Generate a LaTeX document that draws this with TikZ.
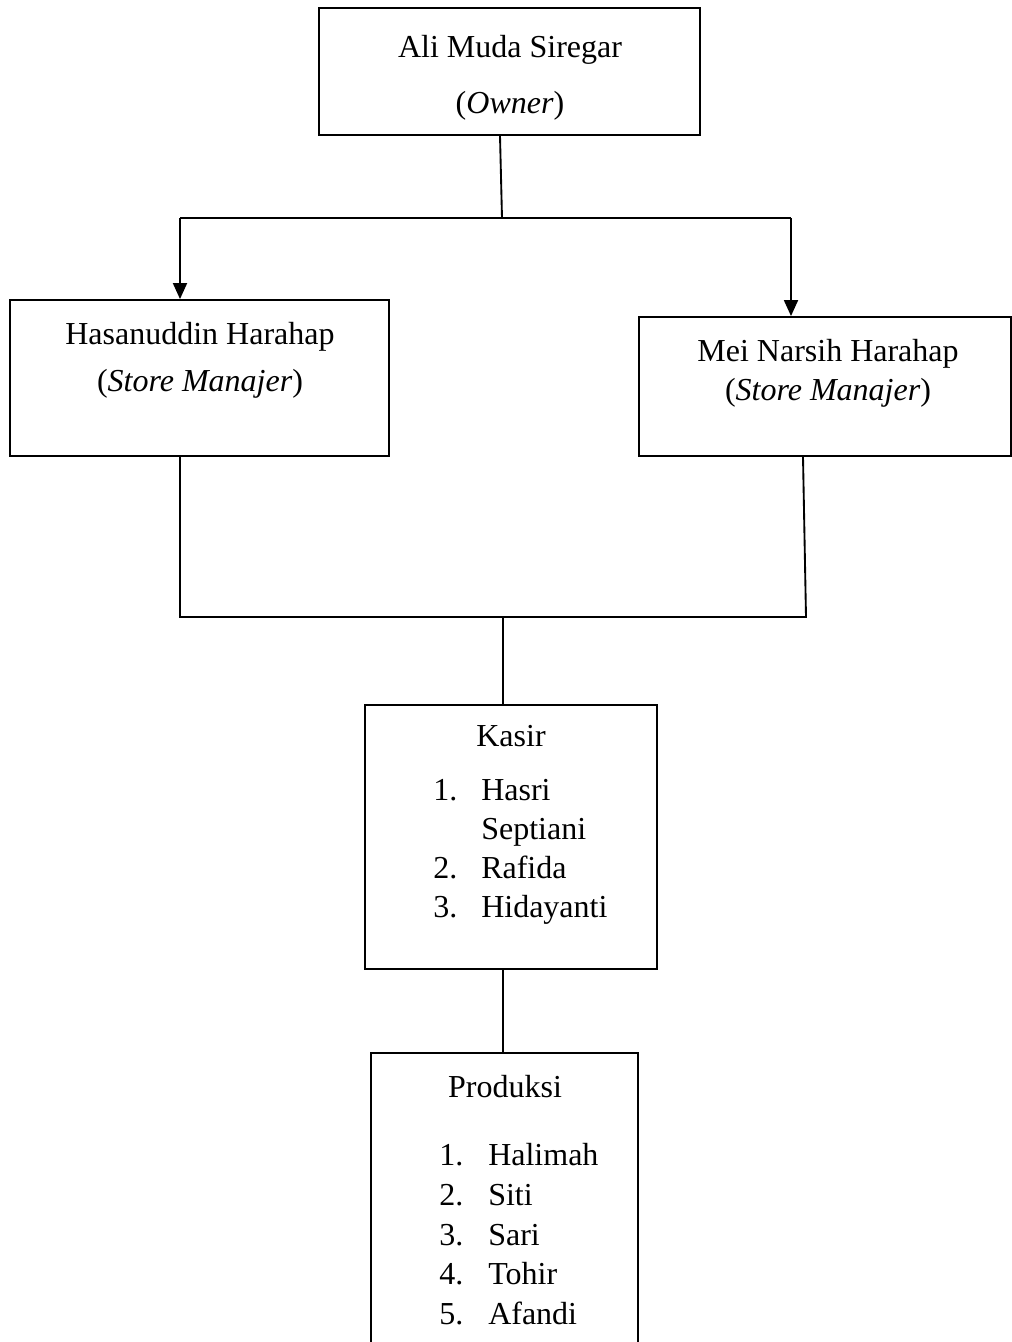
\documentclass[tikz,border=0pt]{standalone}
\usepackage{fontspec}
\setmainfont{Liberation Serif}
\usetikzlibrary{arrows.meta}
\begin{document}
\begin{tikzpicture}[x=0.75pt,y=-0.75pt,
  boxst/.style={draw,line width=1.4pt,inner sep=0pt,rectangle},
  conn/.style={line width=1.4pt},
  arr/.style={line width=1.4pt,-{Triangle[length=12pt,width=10.5pt]}},
  txt/.style={inner sep=0pt,font=\fontsize{24}{28}\selectfont},
  txc/.style={txt,anchor=base},
  txl/.style={txt,anchor=base west}]
\clip (0,0) rectangle (1012,1342);
\fill[white] (0,0) rectangle (1012,1342);
% boxes
\node[boxst,minimum width=285.75pt,minimum height=95.25pt] (owner) at (509.5,71.5) {};
\node[boxst,minimum width=284.25pt,minimum height=117pt] (hasan) at (199.5,378) {};
\node[boxst,minimum width=279pt,minimum height=104.25pt] (mei) at (825,386.5) {};
\node[boxst,minimum width=219pt,minimum height=198pt] (kasir) at (511,837) {};
\node[boxst,minimum width=200.25pt,minimum height=230.25pt] (prod) at (504.5,1206.5) {};
% texts
\node[txc] (t1) at (510,57) {Ali Muda Siregar};
\node[txc] (t2) at (510,113) {(\textit{Owner})};
\node[txc] (t3) at (200,344) {Hasanuddin Harahap};
\node[txc] (t4) at (200,391) {(\textit{Store Manajer})};
\node[txc] (t5) at (828,361) {Mei Narsih Harahap};
\node[txc] (t6) at (828,400) {(\textit{Store Manajer})};
\node[txc] (k0) at (511,746) {Kasir};
\node[txl] (k1n) at (433,800) {1.};
\node[txl] (k1) at (481,800) {Hasri};
\node[txl] (k1b) at (481,839) {Septiani};
\node[txl] (k2n) at (433,878) {2.};
\node[txl] (k2) at (481,878) {Rafida};
\node[txl] (k3n) at (433,917) {3.};
\node[txl] (k3) at (481,917) {Hidayanti};
\node[txc] (p0) at (505,1097) {Produksi};
\node[txl] (p1n) at (439,1165) {1.};
\node[txl] (p1) at (488,1165) {Halimah};
\node[txl] (p2n) at (439,1205) {2.};
\node[txl] (p2) at (488,1205) {Siti};
\node[txl] (p3n) at (439,1245) {3.};
\node[txl] (p3) at (488,1245) {Sari};
\node[txl] (p4n) at (439,1284) {4.};
\node[txl] (p4) at (488,1284) {Tohir};
\node[txl] (p5n) at (439,1324) {5.};
\node[txl] (p5) at (488,1324) {Afandi};
% connectors
\coordinate (xo) at (500,0);
\coordinate (ta) at (502,218);
\coordinate (tl) at (180,218);
\coordinate (tr) at (791,218);
\coordinate (bl) at (180,617);
\coordinate (br) at (806,617);
\coordinate (bm) at (503,617);
\coordinate (xm) at (803,0);
\draw[conn] (owner.south -| xo) -- (ta);
\draw[conn] (tl) -- (tr);
\draw[arr] (tl) -- (tl |- hasan.north);
\draw[arr] (tr) -- (tr |- mei.north);
\draw[conn] (hasan.south -| bl) -- (bl) -- (br) -- (mei.south -| xm);
\draw[conn] (bm) -- (bm |- kasir.north);
\draw[conn] (kasir.south -| bm) -- (bm |- prod.north);
\end{tikzpicture}
\end{document}
